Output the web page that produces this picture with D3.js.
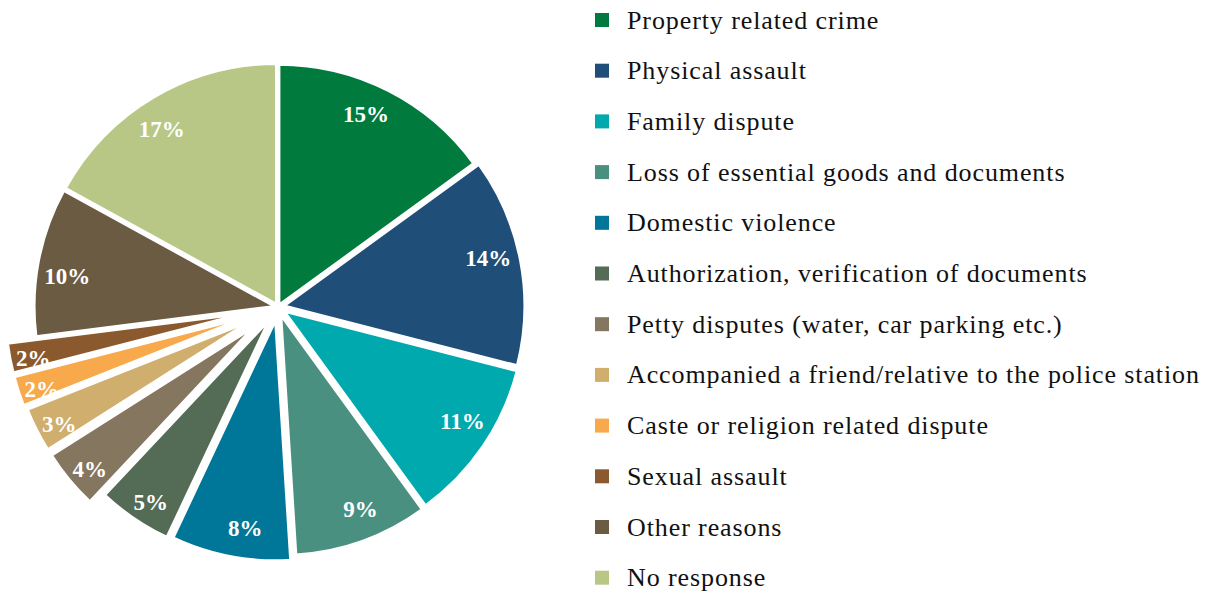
<!DOCTYPE html>
<html>
<head>
<meta charset="utf-8">
<script src="https://cdn.jsdelivr.net/npm/d3@7"></script>
<style>
  html, body { margin: 0; padding: 0; background: #fff; }
  svg { display: block; }
</style>
</head>
<body>
<div id="chart"></div>
<script>
// ---- Data ----
const categories = [
  "Property related crime",
  "Physical assault",
  "Family dispute",
  "Loss of essential goods and documents",
  "Domestic violence",
  "Authorization, verification of documents",
  "Petty disputes (water, car parking etc.)",
  "Accompanied a friend/relative to the police station",
  "Caste or religion related dispute",
  "Sexual assault",
  "Other reasons",
  "No response"
];
const shares = [15, 14, 11, 9, 8, 5, 4, 3, 2, 2, 10, 17];
const labels = ["15%", "14%", "11%", "9%", "8%", "5%", "4%", "3%", "2%", "2%", "10%", "17%"];

// styling
const colors = [
  "#007a3d", "#1f4e79", "#00a9ad", "#4a9080", "#007799", "#546b55",
  "#857660", "#cfae6e", "#f8a94b", "#8a5a2e", "#6b5b43", "#b8c785"
];
const explode = [2, 6, 7, 8, 13, 15, 30, 30, 32, 32, 3, 3];

const width = 1212, height = 594;
const cx = 278, cy = 307, radius = 241;
const deg = Math.PI / 180;

const svg = d3.select("#chart")
  .append("svg")
  .attr("width", width)
  .attr("height", height);

const pie = d3.pie().sort(null).value(d => d);
const arcs = pie(shares);

const arc = d3.arc().innerRadius(0).outerRadius(radius);

const polar = (a, r) => [Math.sin(a) * r, -Math.cos(a) * r];
const mid = d => (d.startAngle + d.endAngle) / 2;

const pieG = svg.append("g").attr("transform", `translate(${cx},${cy})`);

const slices = pieG.selectAll(".slice")
  .data(arcs)
  .enter()
  .append("g")
  .attr("class", "slice")
  .attr("transform", (d, i) => {
    const [dx, dy] = polar(mid(d), explode[i]);
    return `translate(${dx},${dy})`;
  });

slices.append("path")
  .attr("d", arc)
  .attr("fill", (d, i) => colors[i])
  .attr("stroke", "#fff")
  .attr("stroke-width", 3)
  .attr("stroke-linejoin", "round");

slices.append("text")
  .attr("transform", (d, i) => {
    const small = shares[i] <= 5;
    const r = small ? radius - 23 : radius - 31;
    const turn = (small ? -1.2 : -2.5) * deg;
    const [x, y] = polar(mid(d) + turn, r);
    return `translate(${x},${y})`;
  })
  .attr("text-anchor", "middle")
  .attr("dy", "0.35em")
  .attr("fill", "#fff")
  .attr("font-family", "'Liberation Serif', serif")
  .attr("font-weight", "bold")
  .attr("font-size", 23)
  .text((d, i) => labels[i]);

// ---- Legend ----
const legend = svg.append("g")
  .attr("transform", "translate(595, 20)")
  .attr("font-family", "'Liberation Serif', serif")
  .attr("font-size", 26)
  .attr("letter-spacing", 0.9)
  .attr("fill", "#111");

const rowH = 50.7;
const items = legend.selectAll("g")
  .data(categories)
  .enter()
  .append("g")
  .attr("transform", (d, i) => `translate(0, ${i * rowH})`);

items.append("rect")
  .attr("x", 0)
  .attr("y", -7)
  .attr("width", 14)
  .attr("height", 14)
  .attr("fill", (d, i) => colors[i]);

items.append("text")
  .attr("x", 32)
  .attr("y", 0)
  .attr("dy", "0.33em")
  .text(d => d);
</script>
</body>
</html>
